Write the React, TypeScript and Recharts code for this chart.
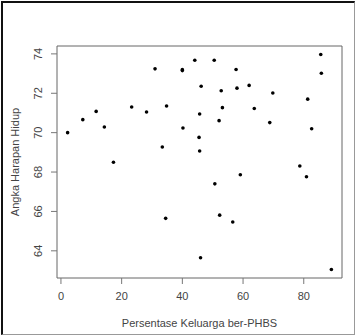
import React from 'react';
import { ScatterChart, Scatter, XAxis, YAxis, ReferenceArea } from 'recharts';

const phbs = [
  2.2, 7.2, 11.6, 14.3, 17.3, 23.3, 28.2, 31.0, 33.4, 34.8, 34.5, 40.0, 40.0, 40.2,
  44.1, 46.2, 45.7, 45.5, 45.7, 46.0, 50.5, 52.8, 53.2, 52.1, 50.7, 52.3, 56.6,
  57.7, 58.0, 59.1, 62.0, 63.7, 69.8, 68.8, 78.7, 80.9, 81.3, 82.6, 85.6, 85.8, 89.1,
];
const ahh = [
  70.0, 70.66, 71.08, 70.29, 68.5, 71.3, 71.05, 73.24, 69.27, 71.35, 65.65, 73.2, 73.15, 70.24,
  73.68, 72.36, 70.95, 69.76, 69.07, 63.65, 73.68, 72.13, 71.27, 70.61, 67.4, 65.81, 65.46,
  73.21, 72.26, 67.86, 72.4, 71.23, 72.01, 70.51, 68.31, 67.76, 71.7, 70.2, 73.97, 73.02, 63.05,
];
const xTicks = [0, 20, 40, 60, 80];
const yTicks = [64, 66, 68, 70, 72, 74];
const xDomain = [-1.3, 92.6];
const yDomain = [62.62, 74.4];

const data = phbs.map((x, i) => ({ x, y: ahh[i] }));

const font = 'Liberation Sans, Arial, sans-serif';

const Dot = (props: any) => <circle cx={props.cx} cy={props.cy} r={1.8} fill="#000" />;

const YTick = (props: any) => {
  const { y, payload } = props;
  return (
    <text
      x={0}
      y={0}
      transform={`translate(42, ${y}) rotate(-90)`}
      textAnchor="middle"
      fontSize={11}
      fontFamily={font}
      fill="#444"
    >
      {payload.value}
    </text>
  );
};

export default function App() {
  return (
    <div style={{ position: 'absolute', left: 0, top: 0, width: 356, height: 336, background: '#fff' }}>
      <ScatterChart width={356} height={336} margin={{ top: 46, right: 14, bottom: 0, left: 0 }}>
        <XAxis
          type="number"
          dataKey="x"
          domain={xDomain}
          ticks={xTicks}
          allowDataOverflow
          axisLine={false}
          tickLine={{ stroke: '#777' }}
          tickSize={6}
          tickMargin={8}
          height={58}
          tick={{ fontSize: 11, fontFamily: font, fill: '#444' }}
          label={{ value: 'Persentase Keluarga ber-PHBS', position: 'insideBottom', offset: 9, fontSize: 11, fontFamily: font, fill: '#444' }}
        />
        <YAxis
          type="number"
          dataKey="y"
          domain={yDomain}
          ticks={yTicks}
          allowDataOverflow
          axisLine={false}
          tickLine={{ stroke: '#777' }}
          tickSize={6}
          width={57}
          tick={<YTick />}
          label={{ value: 'Angka Harapan Hidup', angle: -90, position: 'insideLeft', offset: 15, fontSize: 11, fontFamily: font, fill: '#444', style: { textAnchor: 'middle' } }}
        />
        <ReferenceArea x1={xDomain[0]} x2={xDomain[1]} y1={yDomain[0]} y2={yDomain[1]} fill="none" stroke="#666" strokeWidth={1} />
        <Scatter data={data} shape={<Dot />} isAnimationActive={false} />
      </ScatterChart>
      <div
        style={{
          position: 'absolute',
          left: 1,
          top: 1,
          width: 354,
          height: 334,
          boxSizing: 'border-box',
          borderLeft: '2px solid #111',
          borderTop: '2px solid #111',
          borderRight: '1px solid #999',
          borderBottom: '1px solid #999',
          pointerEvents: 'none',
        }}
      />
    </div>
  );
}
